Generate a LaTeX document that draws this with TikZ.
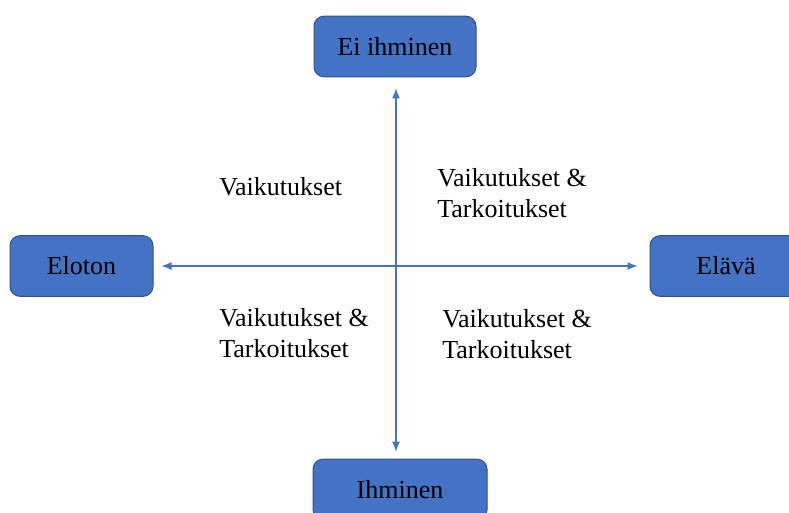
\documentclass[tikz,border=0pt]{standalone}
\usepackage{fontspec}
\setmainfont{Liberation Serif}
\usetikzlibrary{positioning,arrows.meta}
\definecolor{sininen}{HTML}{4472C4}
\definecolor{tummasininen}{HTML}{2F528F}

\begin{document}
\begin{tikzpicture}[x=0.75pt, y=-0.75pt,
        font=\fontsize{19.5}{23}\selectfont,
        >={Latex[length=7.5pt,width=6pt]}, % nuolenkärjet
        laatikko/.style={draw=tummasininen, fill=sininen, line width=0.75pt,
            rounded corners=7.5pt, minimum height=45.5pt, inner sep=0pt},
        teksti/.style={anchor=west, align=left, inner sep=0pt},
        nuoli/.style={draw=sininen, line width=1pt, ->}
        ]
            \useasboundingbox (0,0) rectangle (789,513);
            \clip (0,0) rectangle (789,513);

            % Laatikot
            \node[laatikko, minimum width=121.5pt] (Ei) at (395,46.5) {Ei ihminen};
            \node[laatikko, minimum width=107.25pt] (Eloton) at (81.5,266) {Eloton};
            \node[laatikko, minimum width=114pt] (Elava) at (726,266) {Elävä};
            \node[laatikko, minimum width=130.5pt] (Ihminen) at (400,489.5) {Ihminen};

            % Nuolet
            \coordinate (O) at (396,266);
            \draw[nuoli, shorten >=8.25pt] (O) -- (O |- Ei.south);
            \draw[nuoli, shorten >=5.25pt] (O) -- (O |- Ihminen.north);
            \draw[nuoli, shorten >=6pt] (O) -- (O -| Eloton.east);
            \draw[nuoli, shorten >=9pt] (O) -- (O -| Elava.west);

            % Tekstit
            \node[teksti] (V1) at (219,187) {Vaikutukset};
            \node[teksti] (V2) at (437,193) {Vaikutukset \&\\Tarkoitukset};
            \node[teksti] (V3) at (219,333) {Vaikutukset \&\\Tarkoitukset};
            \node[teksti] (V4) at (442,334) {Vaikutukset \&\\Tarkoitukset};

        \end{tikzpicture}
\end{document}
